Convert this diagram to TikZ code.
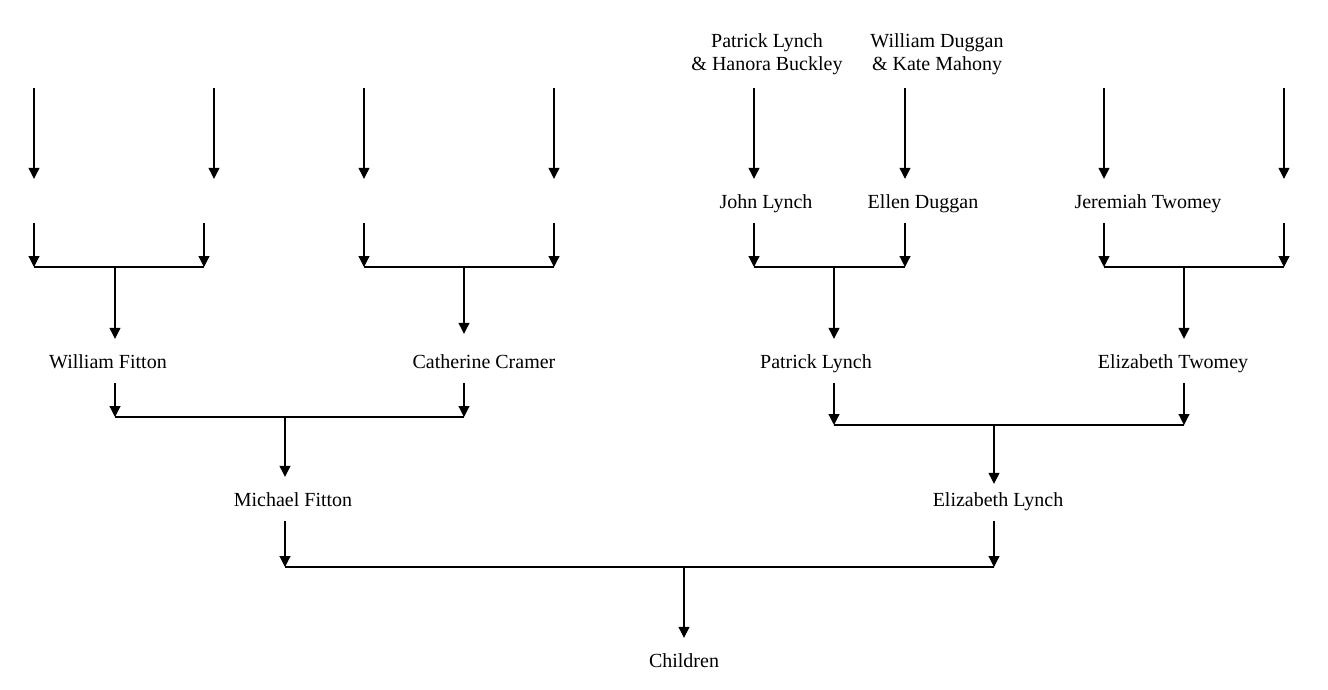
\documentclass[tikz,border=0pt]{standalone}
\usepackage{fontspec}
\setmainfont{Liberation Serif}
\usetikzlibrary{arrows.meta}

\begin{document}
\begin{tikzpicture}[
    x=1pt, y=-1pt,
    couple/.style={font=\fontsize{20}{23}\selectfont, align=center, inner sep=0pt, minimum height=68pt},
    person/.style={font=\fontsize{20}{23}\selectfont, inner sep=0pt, text height=20pt, text depth=4.5pt, minimum height=44pt},
    line/.style={line width=1.2pt},
    arr/.style={line, -{Triangle[width=11pt,length=11pt]}},
]
\useasboundingbox (0,0) rectangle (1328,690);

% people
\node[couple] (plh) at (767,54)  {Patrick Lynch\\ \& Hanora Buckley};
\node[couple] (wdk) at (937,54)  {William Duggan\\ \& Kate Mahony};
\node[person] (jl)  at (766,201) {John Lynch};
\node[person] (ed)  at (923,201) {Ellen Duggan};
\node[person] (jt)  at (1148,201) {Jeremiah Twomey};
\node[person] (wf)  at (108,361) {William Fitton};
\node[person] (cc)  at (484,361) {Catherine Cramer};
\node[person] (plb) at (816,361) {Patrick Lynch};
\node[person] (et)  at (1173,361) {Elizabeth Twomey};
\node[person] (mf)  at (293,499) {Michael Fitton};
\node[person] (el)  at (998,499) {Elizabeth Lynch};
\node[person] (ch)  at (684,660) {Children};

% couple bars: left, right, drop
\foreach \b/\l/\r/\m/\y in {1/34/204/115/267, 2/364/554/464/267, 3/754/905/834/267,
                            4/1104/1284/1184/267, 5/115/464/285/417, 6/834/1184/994/425,
                            7/285/994/684/567} {
  \coordinate (bar\b L) at (\l,\y);
  \coordinate (bar\b R) at (\r,\y);
  \coordinate (bar\b M) at (\m,\y);
  \draw[line] (bar\b L) -- (bar\b R);
}

% unknown ancestors, top row
\foreach \n/\x in {a/34, b/214, c/364, d/554, g/1104, h/1284} {
  \coordinate (top-\n) at (\x,88);
}
\foreach \n in {a, b, c, d, h} {
  \draw[arr] (top-\n) -- (top-\n |- jl.north);
}
\draw[arr] (top-g) -- (top-g |- jt.north);
\draw[arr] (bar3L |- plh.south) -- (bar3L |- jl.north);
\draw[arr] (bar3R |- wdk.south) -- (bar3R |- ed.north);

% second row into bars
\foreach \b in {1L, 1R, 2L, 2R, 4R} {
  \draw[arr] (bar\b |- jl.south) -- (bar\b);
}
\draw[arr] (bar3L |- jl.south) -- (bar3L);
\draw[arr] (bar3R |- ed.south) -- (bar3R);
\draw[arr] (bar4L |- jt.south) -- (bar4L);

% drops to grandparents
\draw[arr] (bar1M) -- (bar1M |- wf.north);
\draw[arr, shorten >=5pt] (bar2M) -- (bar2M |- cc.north);
\draw[arr] (bar3M) -- (bar3M |- plb.north);
\draw[arr] (bar4M) -- (bar4M |- et.north);

% grandparents into bars
\draw[arr] (bar5L |- wf.south)  -- (bar5L);
\draw[arr] (bar5R |- cc.south)  -- (bar5R);
\draw[arr] (bar6L |- plb.south) -- (bar6L);
\draw[arr] (bar6R |- et.south)  -- (bar6R);
\draw[arr] (bar5M) -- (bar5M |- mf.north);
\draw[arr, shorten >=-7pt] (bar6M) -- (bar6M |- el.north);

% parents
\draw[arr] (bar7L |- mf.south) -- (bar7L);
\draw[arr] (bar7R |- el.south) -- (bar7R);
\draw[arr] (bar7M) -- (bar7M |- ch.north);
\end{tikzpicture}
\end{document}
